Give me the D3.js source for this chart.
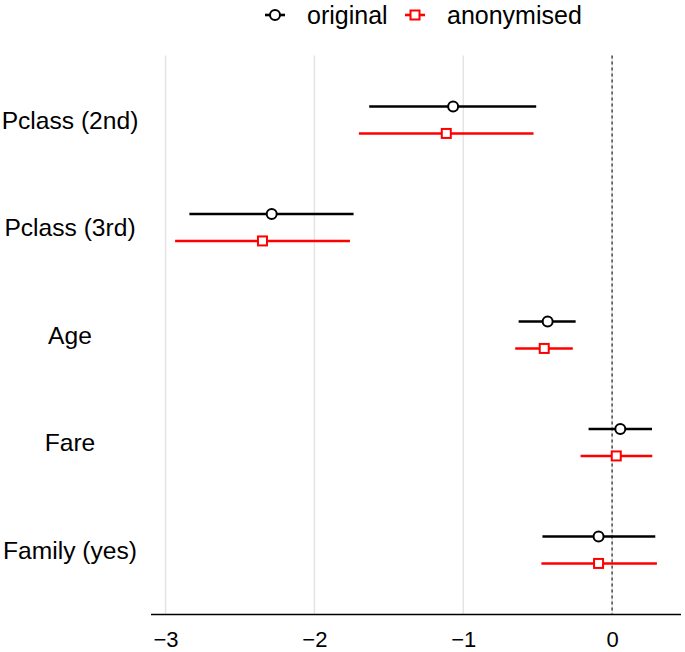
<!DOCTYPE html>
<html>
<head>
<meta charset="utf-8">
<script src="https://cdn.jsdelivr.net/npm/d3@7"></script>
<style>
  html, body { margin: 0; padding: 0; background: #fff; }
  svg { display: block; font-family: "Liberation Sans", Arial, sans-serif; }
</style>
</head>
<body>
<svg id="chart" width="685" height="652"></svg>
<script>
const categories = ["Pclass (2nd)", "Pclass (3rd)", "Age", "Fare", "Family (yes)"];
const origEst  = [-1.068, -2.287, -0.433, 0.055, -0.091];
const origLow  = [-1.632, -2.840, -0.628, -0.158, -0.468];
const origHigh = [-0.510, -1.737, -0.245, 0.268, 0.290];
const anonEst  = [-1.114, -2.349, -0.456, 0.028, -0.091];
const anonLow  = [-1.701, -2.936, -0.651, -0.212, -0.475];
const anonHigh = [-0.528, -1.761, -0.264, 0.270, 0.301];
const xTicks = [-3, -2, -1, 0];
const seriesNames = ["original", "anonymised"];
const seriesColors = ["#000000", "#ff0000"];

const svg = d3.select("#chart");
const plot = { left: 151, right: 681, top: 55.5, bottom: 614.5 };

const allVals = origLow.concat(origHigh, anonLow, anonHigh);
const lo = d3.min(allVals), hi = d3.max(allVals);
const pad = (hi - lo) * 0.05;
const x = d3.scaleLinear().domain([lo - pad, hi + pad]).range([plot.left, plot.right]);
const y = d3.scalePoint().domain(categories).range([plot.top, plot.bottom]).padding(0.6);
const dodge = y.step() * 0.125;

// gridlines
svg.append("g").selectAll("line").data(xTicks).join("line")
  .attr("x1", d => x(d)).attr("x2", d => x(d))
  .attr("y1", plot.top).attr("y2", plot.bottom)
  .attr("stroke", "#e3e3e3").attr("stroke-width", 1.4);

// zero dashed line
svg.append("line")
  .attr("x1", x(0)).attr("x2", x(0))
  .attr("y1", plot.top).attr("y2", plot.bottom)
  .attr("stroke", "#333").attr("stroke-width", 1.3)
  .attr("stroke-dasharray", "3,3");

// x axis
const xAxis = d3.axisBottom(x).tickValues(xTicks).tickSize(0).tickPadding(17).tickFormat(d3.format("d"));
const gx = svg.append("g").attr("transform", `translate(0,${plot.bottom})`).call(xAxis);
gx.select(".domain").remove();
gx.append("line").attr("x1", plot.left).attr("x2", plot.right).attr("y1", 0).attr("y2", 0)
  .attr("stroke", "#000").attr("stroke-width", 1.5);
gx.selectAll("text").attr("font-size", 22).attr("fill", "#000")
  .attr("font-family", "Liberation Sans, Arial, sans-serif");

// y labels (centered)
svg.append("g").selectAll("text").data(categories).join("text")
  .attr("x", 70).attr("y", d => y(d)).attr("dy", "0.36em")
  .attr("text-anchor", "middle").attr("font-size", 24.6).attr("fill", "#000")
  .text(d => d);

// series
const series = [
  { name: seriesNames[0], color: seriesColors[0], est: origEst, low: origLow, high: origHigh, off: -dodge, shape: "circle" },
  { name: seriesNames[1], color: seriesColors[1], est: anonEst, low: anonLow, high: anonHigh, off: dodge, shape: "square" }
];

series.forEach(s => {
  const g = svg.append("g");
  const rows = categories.map((c, i) => ({ c, est: s.est[i], low: s.low[i], high: s.high[i] }));
  g.selectAll("line").data(rows).join("line")
    .attr("x1", d => x(d.low)).attr("x2", d => x(d.high))
    .attr("y1", d => y(d.c) + s.off).attr("y2", d => y(d.c) + s.off)
    .attr("stroke", s.color).attr("stroke-width", 2.6);
  if (s.shape === "circle") {
    g.selectAll("circle").data(rows).join("circle")
      .attr("cx", d => x(d.est)).attr("cy", d => y(d.c) + s.off).attr("r", 5)
      .attr("fill", "#fff").attr("stroke", s.color).attr("stroke-width", 2);
  } else {
    g.selectAll("rect").data(rows).join("rect")
      .attr("x", d => x(d.est) - 4.5).attr("y", d => y(d.c) + s.off - 4.5)
      .attr("width", 9).attr("height", 9)
      .attr("fill", "#fff").attr("stroke", s.color).attr("stroke-width", 2);
  }
});

// legend
const legend = svg.append("g");
const legItems = [
  { x: 265, name: seriesNames[0], color: seriesColors[0], shape: "circle" },
  { x: 405, name: seriesNames[1], color: seriesColors[1], shape: "square" }
];
legItems.forEach(it => {
  const g = legend.append("g").attr("transform", `translate(${it.x},15)`);
  g.append("line").attr("x1", 0).attr("x2", 20).attr("y1", 0).attr("y2", 0)
    .attr("stroke", it.color).attr("stroke-width", 2.6);
  if (it.shape === "circle") {
    g.append("circle").attr("cx", 10).attr("cy", 0).attr("r", 5)
      .attr("fill", "#fff").attr("stroke", it.color).attr("stroke-width", 2);
  } else {
    g.append("rect").attr("x", 5.5).attr("y", -4.5).attr("width", 9).attr("height", 9)
      .attr("fill", "#fff").attr("stroke", it.color).attr("stroke-width", 2);
  }
  g.append("text").attr("x", 42).attr("y", 0).attr("dy", "0.36em")
    .attr("font-size", 25).attr("fill", "#000").text(it.name);
});
</script>
</body>
</html>
